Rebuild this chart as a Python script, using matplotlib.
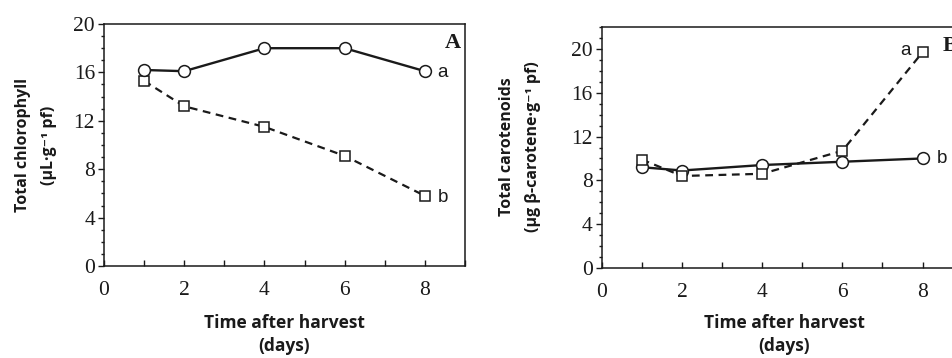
import matplotlib
matplotlib.use('Agg')
import matplotlib.pyplot as plt
from matplotlib.ticker import MultipleLocator

# Data
days = [1, 2, 4, 6, 8]

# Panel A - total chlorophyll
chl_circle = [16.2, 16.1, 18.0, 18.0, 16.1]
chl_square = [15.3, 13.2, 11.5, 9.1, 5.8]

# Panel B - total carotenoids
car_circle = [9.2, 8.9, 9.4, 9.7, 10.0]
car_square = [9.9, 8.4, 8.6, 10.7, 19.7]

serif = 'Liberation Serif'
sans_lab = ['Open Sans', 'DejaVu Sans']
sans_ann = 'Liberation Sans'
ink = '#1a1a1a'

fig = plt.figure(figsize=(9.53, 3.58), dpi=100)

W, H = 953.0, 358.0
axA = fig.add_axes([104 / W, 1 - 266 / H, 361 / W, 242 / H])
axB = fig.add_axes([601.7 / W, 1 - 268 / H, 361 / W, 241 / H])


def style_axis(ax, ymax):
    ax.set_xlim(0, 9)
    ax.set_ylim(0, ymax)
    ax.xaxis.set_major_locator(MultipleLocator(2))
    ax.xaxis.set_minor_locator(MultipleLocator(1))
    ax.yaxis.set_minor_locator(MultipleLocator(1))
    ax.set_yticks([0, 4, 8, 12, 16, 20])
    ax.tick_params(axis='x', which='both', direction='in', length=4, width=1,
                   pad=11, colors=ink)
    ax.tick_params(axis='y', which='major', direction='out', length=4, width=1,
                   pad=2.5, colors=ink)
    ax.tick_params(axis='y', which='minor', direction='out', length=2.2, width=1,
                   colors=ink)
    for lab in ax.get_xticklabels() + ax.get_yticklabels():
        lab.set_fontfamily(serif)
        lab.set_fontsize(15.5)
        lab.set_color(ink)
    for sp in ax.spines.values():
        sp.set_linewidth(1.1)
        sp.set_color(ink)


# Panel A
axA.plot(days, chl_square, color=ink, lw=1.6, ls=(0, (3.5, 2.5)), marker='s',
         ms=7.5, mfc='white', mec=ink, mew=1.1, zorder=3)
axA.plot(days, chl_circle, color=ink, lw=1.7, marker='o', ms=8.5,
         mfc='white', mec=ink, mew=1.1, zorder=4)
style_axis(axA, 20)
axA.text(8.32, 16.0, 'a', family=sans_ann, fontsize=13.5, color=ink,
         ha='left', va='center')
axA.text(8.32, 5.7, 'b', family=sans_ann, fontsize=13.5, color=ink,
         ha='left', va='center')
axA.text(8.69, 18.4, 'A', family=serif, fontsize=16, weight='bold',
         color=ink, ha='center', va='center')

# Panel B
axB.plot(days, car_circle, color=ink, lw=1.7, marker='o', ms=8.5,
         mfc='white', mec=ink, mew=1.1, zorder=3)
axB.plot(days, car_square, color=ink, lw=1.6, ls=(0, (3.5, 2.5)), marker='s',
         ms=7.5, mfc='white', mec=ink, mew=1.1, zorder=4)
style_axis(axB, 22)
axB.text(7.58, 19.9, 'a', family=sans_ann, fontsize=13.5, color=ink,
         ha='center', va='center')
axB.text(8.35, 10.0, 'b', family=sans_ann, fontsize=13.5, color=ink,
         ha='left', va='center')
axB.text(8.51, 20.3, 'B', family=serif, fontsize=16, weight='bold',
         color=ink, ha='left', va='center', clip_on=False)

# Axis titles
fig.text(36 / W, 1 - 145 / H, 'Total chlorophyll\n(\u00b5L\u00b7g\u207b\u00b9 pf)',
         family=sans_lab, fontsize=11.5, weight='bold', color=ink,
         rotation=90, ha='center', va='center', linespacing=1.85)
fig.text(520 / W, 1 - 147 / H,
         'Total carotenoids\n(\u00b5g \u03b2-carotene\u00b7g\u207b\u00b9 pf)',
         family=sans_lab, fontsize=11.5, weight='bold', color=ink,
         rotation=90, ha='center', va='center', linespacing=1.85)
fig.text(284 / W, 1 - 334.5 / H, 'Time after harvest\n(days)',
         family=sans_lab, fontsize=12.5, weight='bold', color=ink,
         ha='center', va='center', linespacing=1.3)
fig.text(784 / W, 1 - 334.5 / H, 'Time after harvest\n(days)',
         family=sans_lab, fontsize=12.5, weight='bold', color=ink,
         ha='center', va='center', linespacing=1.3)

fig.savefig('out.png', dpi=100)
